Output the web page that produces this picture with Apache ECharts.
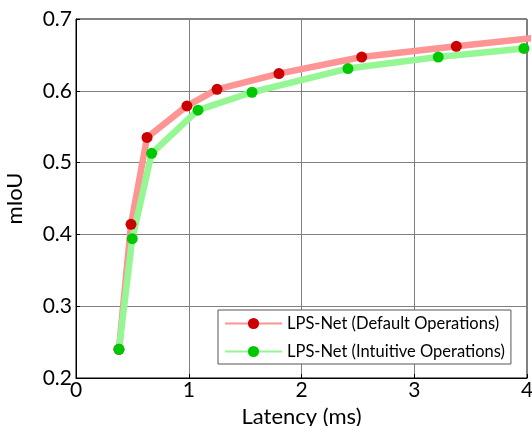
<!DOCTYPE html>
<html>
<head>
<meta charset="utf-8">
<script src="https://cdn.jsdelivr.net/npm/echarts@6/dist/echarts.min.js"></script>
<style>html,body{margin:0;padding:0;background:#fff}#c{width:532px;height:426px}</style>
</head>
<body>
<div id="c"></div>
<script>
var defaultLatency = [0.381, 0.488, 0.630, 0.984, 1.251, 1.800, 2.534, 3.373, 4.25];
var defaultMiou    = [0.240, 0.414, 0.535, 0.579, 0.602, 0.624, 0.647, 0.662, 0.677];
var intuitiveLatency = [0.381, 0.499, 0.671, 1.082, 1.561, 2.412, 3.213, 3.973];
var intuitiveMiou    = [0.240, 0.394, 0.513, 0.573, 0.598, 0.631, 0.647, 0.659];
var seriesNames = ['LPS-Net (Default Operations)', 'LPS-Net (Intuitive Operations)'];
var xTicks = [0, 1, 2, 3, 4];
var yTicks = [0.2, 0.3, 0.4, 0.5, 0.6, 0.7];

function pairs(xs, ys) { return xs.map(function (x, i) { return [x, ys[i]]; }); }

var FONT = 'Lato';
var chart = echarts.init(document.getElementById('c'), null, { renderer: 'canvas' });
chart.setOption({
  animation: false,
  backgroundColor: '#fff',
  grid: { left: 76, right: 5, top: 19, bottom: 48, show: true, borderColor: '#000', borderWidth: 1,
    backgroundColor: 'transparent', containLabel: false, outerBoundsMode: 'none' },
  xAxis: {
    type: 'value', min: xTicks[0], max: xTicks[xTicks.length - 1], interval: 1,
    name: 'Latency (ms)', nameLocation: 'middle', nameGap: 24,
    nameTextStyle: { fontFamily: FONT, fontSize: 22, color: '#000' },
    axisLine: { show: true, lineStyle: { color: '#000', width: 1 } },
    axisTick: { show: true, inside: true, length: 4, lineStyle: { color: '#000' } },
    axisLabel: { fontFamily: FONT, fontSize: 21, color: '#000', margin: 2 },
    splitLine: { show: true, lineStyle: { color: '#808080', width: 1 } }
  },
  yAxis: {
    type: 'value', min: yTicks[0], max: yTicks[yTicks.length - 1], interval: 0.1,
    name: 'mIoU', nameLocation: 'middle', nameGap: 50, nameRotate: 90,
    nameTextStyle: { fontFamily: FONT, fontSize: 22, color: '#000' },
    axisLine: { show: true, lineStyle: { color: '#000', width: 1 } },
    axisTick: { show: true, inside: true, length: 4, lineStyle: { color: '#000' } },
    axisLabel: { fontFamily: FONT, fontSize: 21, color: '#000', margin: 4,
      formatter: function (v) { return (Math.round(v * 10) / 10).toFixed(1); } },
    splitLine: { show: true, lineStyle: { color: '#808080', width: 1 } }
  },
  legend: {
    orient: 'vertical', left: 218, top: 310,
    padding: [5, 6, 4, 6], itemGap: 11, itemWidth: 57, itemHeight: 14,
    backgroundColor: '#fff', borderColor: '#555', borderWidth: 1,
    textStyle: { fontFamily: FONT, fontSize: 16.5, color: '#000' },
    data: seriesNames
  },
  series: [
    {
      name: seriesNames[0], type: 'line', clip: true,
      data: pairs(defaultLatency, defaultMiou),
      symbol: 'circle', symbolSize: 11, showAllSymbol: true,
      lineStyle: { color: '#ff9494', width: 6.5 },
      itemStyle: { color: '#cc0000' }
    },
    {
      name: seriesNames[1], type: 'line', clip: true,
      data: pairs(intuitiveLatency, intuitiveMiou),
      symbol: 'circle', symbolSize: 11, showAllSymbol: true,
      lineStyle: { color: '#94f794', width: 6.5 },
      itemStyle: { color: '#00c800' }
    }
  ]
});
</script>
</body>
</html>
